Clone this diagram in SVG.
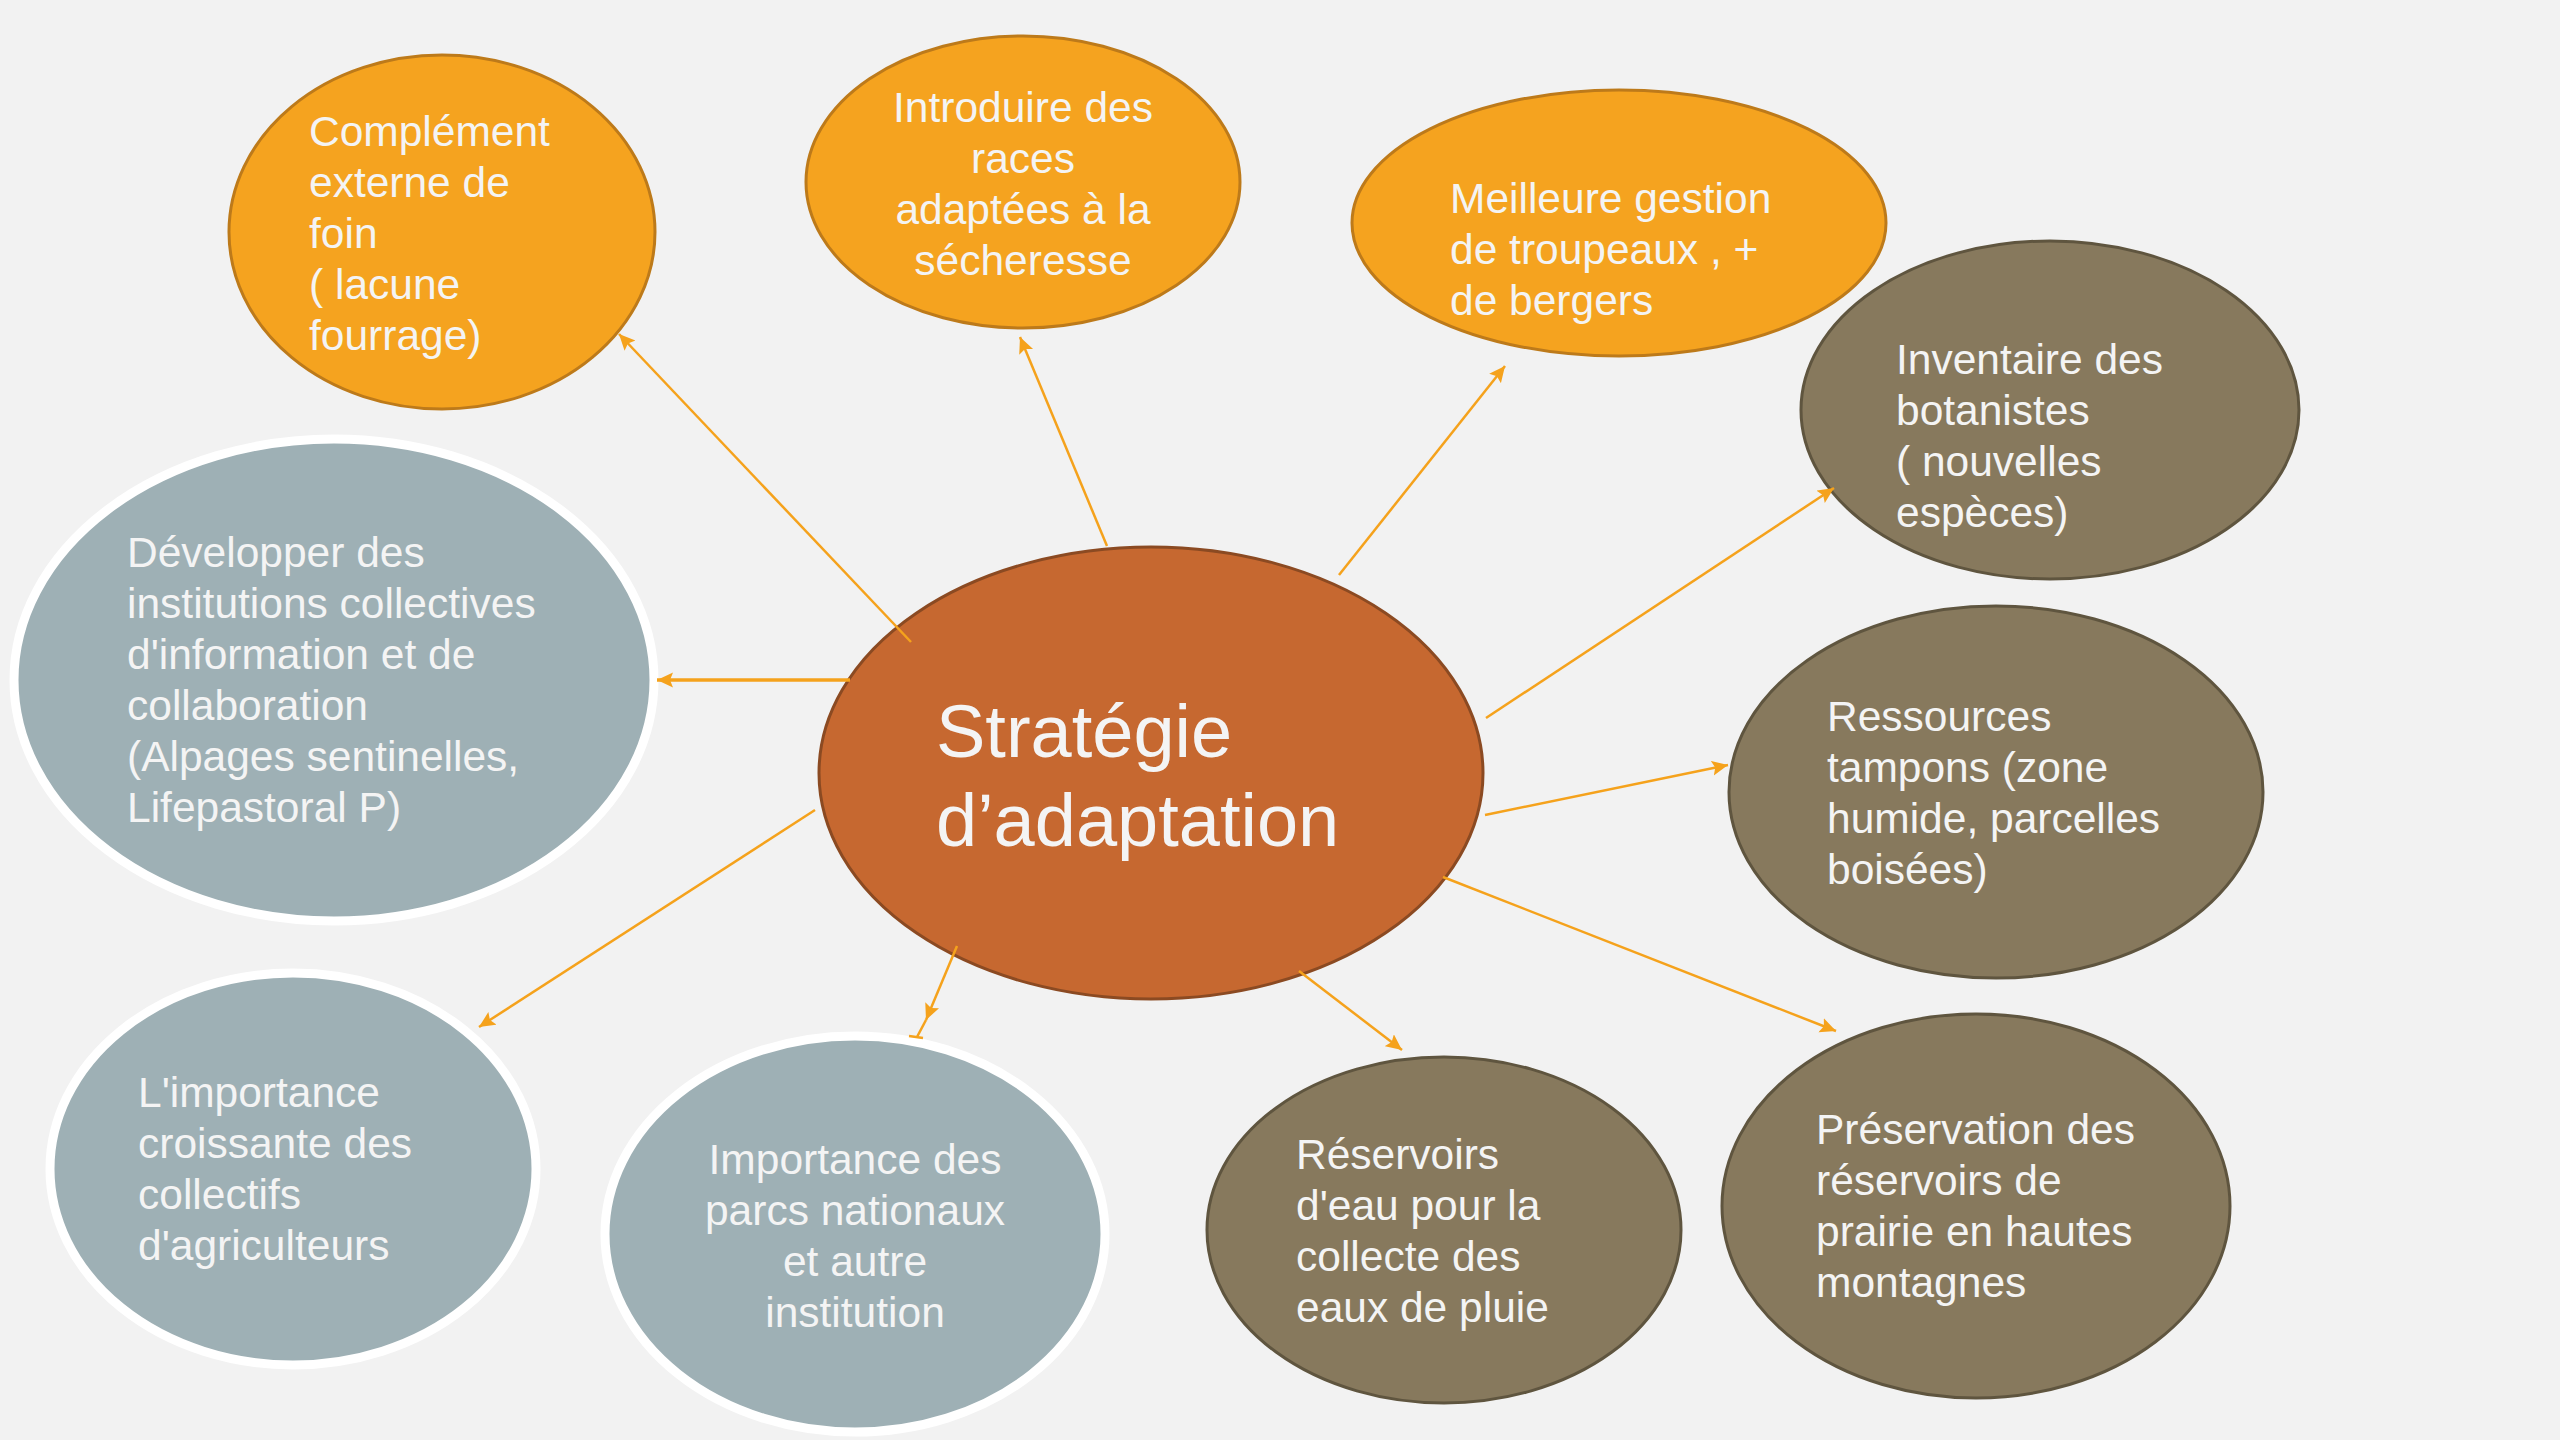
<svg xmlns="http://www.w3.org/2000/svg" width="2560" height="1440" viewBox="0 0 2560 1440">
<style>
.bg{fill:#f2f2f2}
.orange{fill:#f5a31f;stroke:#bd7a1a;stroke-width:3}
.grey{fill:#9eb0b5;stroke:#ffffff;stroke-width:9}
.brown{fill:#87795d;stroke:#5f553f;stroke-width:3}
.center{fill:#c66830;stroke:#8b4a22;stroke-width:3}
.t{font-family:"Liberation Sans",Arial,sans-serif;font-size:42.5px;fill:#f4f4f4}
.tc{text-anchor:middle}
.big{font-family:"Liberation Sans",Arial,sans-serif;font-size:74px;fill:#f4f4f4}
.conn{stroke:#f5a21c;stroke-width:2.5;fill:none}
</style>
<defs>
<marker id="ah" markerUnits="userSpaceOnUse" markerWidth="18" markerHeight="16" refX="16" refY="7.5" orient="auto" viewBox="0 0 18 16">
<path d="M0,0 L16,7.5 L0,15 L3,7.5 z" fill="#f5a21c"/>
</marker>
</defs>
<rect class="bg" x="0" y="0" width="2560" height="1440"/>

<g id="node-complement">
<ellipse class="orange" cx="442" cy="232" rx="213" ry="177"/>
<text class="t"><tspan x="309" y="146">Complément</tspan><tspan x="309" y="197">externe de</tspan><tspan x="309" y="248">foin</tspan><tspan x="309" y="299">( lacune</tspan><tspan x="309" y="350">fourrage)</tspan></text>
</g>

<g id="node-introduire">
<ellipse class="orange" cx="1023" cy="182" rx="217" ry="146"/>
<text class="t tc"><tspan x="1023" y="122">Introduire des</tspan><tspan x="1023" y="173">races</tspan><tspan x="1023" y="224">adaptées à la</tspan><tspan x="1023" y="275">sécheresse</tspan></text>
</g>

<g id="node-meilleure">
<ellipse class="orange" cx="1619" cy="223" rx="267" ry="133"/>
<text class="t"><tspan x="1450" y="213">Meilleure gestion</tspan><tspan x="1450" y="264">de troupeaux , +</tspan><tspan x="1450" y="315">de bergers</tspan></text>
</g>

<g id="node-inventaire">
<ellipse class="brown" cx="2050" cy="410" rx="249" ry="169"/>
<text class="t"><tspan x="1896" y="374">Inventaire des</tspan><tspan x="1896" y="425">botanistes</tspan><tspan x="1896" y="476">( nouvelles</tspan><tspan x="1896" y="527">espèces)</tspan></text>
</g>

<g id="node-ressources">
<ellipse class="brown" cx="1996" cy="792" rx="267" ry="186"/>
<text class="t"><tspan x="1827" y="731">Ressources</tspan><tspan x="1827" y="782">tampons (zone</tspan><tspan x="1827" y="833">humide, parcelles</tspan><tspan x="1827" y="884">boisées)</tspan></text>
</g>

<g id="node-preservation">
<ellipse class="brown" cx="1976" cy="1206" rx="254" ry="192"/>
<text class="t"><tspan x="1816" y="1144">Préservation des</tspan><tspan x="1816" y="1195">réservoirs de</tspan><tspan x="1816" y="1246">prairie en hautes</tspan><tspan x="1816" y="1297">montagnes</tspan></text>
</g>

<g id="node-reservoirs">
<ellipse class="brown" cx="1444" cy="1230" rx="237" ry="173"/>
<text class="t"><tspan x="1296" y="1169">Réservoirs</tspan><tspan x="1296" y="1220">d'eau pour la</tspan><tspan x="1296" y="1271">collecte des</tspan><tspan x="1296" y="1322">eaux de pluie</tspan></text>
</g>

<g id="node-parcs">
<ellipse class="grey" cx="855" cy="1234" rx="250" ry="198"/>
<text class="t tc"><tspan x="855" y="1174">Importance des</tspan><tspan x="855" y="1225">parcs nationaux</tspan><tspan x="855" y="1276">et autre</tspan><tspan x="855" y="1327">institution</tspan></text>
</g>

<g id="node-collectifs">
<ellipse class="grey" cx="293" cy="1169" rx="243" ry="196"/>
<text class="t"><tspan x="138" y="1107">L'importance</tspan><tspan x="138" y="1158">croissante des</tspan><tspan x="138" y="1209">collectifs</tspan><tspan x="138" y="1260">d'agriculteurs</tspan></text>
</g>

<g id="node-developper">
<ellipse class="grey" cx="334" cy="680" rx="320" ry="241"/>
<text class="t"><tspan x="127" y="567">Développer des</tspan><tspan x="127" y="618">institutions collectives</tspan><tspan x="127" y="669">d'information et de</tspan><tspan x="127" y="720">collaboration</tspan><tspan x="127" y="771">(Alpages sentinelles,</tspan><tspan x="127" y="822">Lifepastoral P)</tspan></text>
</g>

<g id="node-center">
<ellipse class="center" cx="1151" cy="773" rx="332" ry="226"/>
<text class="big"><tspan x="936" y="757">Stratégie</tspan><tspan x="936" y="846">d’adaptation</tspan></text>
</g>

<g id="connectors">
<line class="conn" x1="911" y1="642" x2="619" y2="334" marker-end="url(#ah)"/>
<line class="conn" x1="1107" y1="546" x2="1020" y2="337" marker-end="url(#ah)"/>
<line class="conn" x1="1339" y1="575" x2="1505" y2="366" marker-end="url(#ah)"/>
<line class="conn" x1="1486" y1="718" x2="1834" y2="488" marker-end="url(#ah)"/>
<line class="conn" x1="850" y1="680" x2="657" y2="680" marker-end="url(#ah)" style="stroke-width:3.5"/>
<line class="conn" x1="1485" y1="815" x2="1728" y2="765" marker-end="url(#ah)"/>
<line class="conn" x1="1443" y1="877" x2="1836" y2="1031" marker-end="url(#ah)"/>
<line class="conn" x1="1299" y1="971" x2="1402" y2="1050" marker-end="url(#ah)"/>
<line class="conn" x1="957" y1="946" x2="926" y2="1020" marker-end="url(#ah)"/>
<line class="conn" x1="926" y1="1020" x2="917" y2="1037"/>
<line class="conn" x1="909" y1="1036" x2="923" y2="1038"/>
<line class="conn" x1="815" y1="810" x2="479" y2="1027" marker-end="url(#ah)"/>
</g>
</svg>
